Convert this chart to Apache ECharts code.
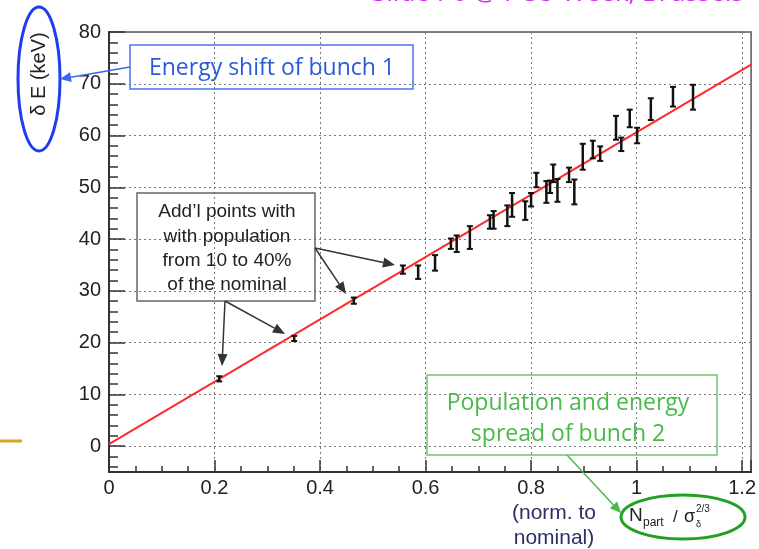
<!DOCTYPE html>
<html>
<head>
<meta charset="utf-8">
<script src="https://cdn.jsdelivr.net/npm/echarts@6/dist/echarts.min.js"></script>
<style>
html,body{margin:0;padding:0;background:#fff;}
#c{width:759px;height:549px;}
</style>
</head>
<body>
<div id="c"></div>
<script>
// ---- data ----
var xVals = [0.209, 0.351, 0.464, 0.557, 0.586, 0.618, 0.648, 0.659, 0.684, 0.722, 0.729,
             0.755, 0.764, 0.789, 0.800, 0.810, 0.829, 0.836, 0.842, 0.850, 0.872,
             0.882, 0.898, 0.917, 0.931, 0.961, 0.971, 0.987, 1.001, 1.027, 1.069, 1.107];
var yVals = [13.0, 20.8, 28.1, 34.1, 33.6, 35.4, 39.1, 39.1, 40.3, 43.3, 43.7,
             44.5, 46.6, 45.5, 47.6, 51.4, 49.1, 50.1, 52.7, 49.4, 52.4,
             49.1, 55.9, 57.3, 56.5, 61.5, 58.3, 63.3, 60.0, 65.1, 67.5, 67.4];
var yErr  = [0.5, 0.5, 0.6, 0.8, 1.3, 1.5, 1.0, 1.6, 2.2, 1.3, 1.7,
             2.0, 2.3, 1.8, 1.3, 1.4, 2.1, 1.2, 1.7, 2.2, 1.4,
             2.4, 2.5, 1.7, 1.4, 2.3, 1.3, 1.7, 1.5, 2.1, 1.9, 2.4];
var fitX = [0, 1.217];
var fitY = [0.4, 73.7];
var xTickStep = 0.2;
var yTickStep = 10;

var errData = xVals.map(function (x, i) { return [x, yVals[i], yErr[i]]; });
var fitData = fitX.map(function (x, i) { return [x, fitY[i]]; });

function arrow(x1, y1, x2, y2, color, w, hl, hw) {
  var dx = x2 - x1, dy = y2 - y1, L = Math.sqrt(dx * dx + dy * dy);
  var ux = dx / L, uy = dy / L, px = -uy, py = ux;
  var bx = x2 - ux * hl, by = y2 - uy * hl;
  return [
    { type: 'line', z: 100, shape: { x1: x1, y1: y1, x2: bx, y2: by }, style: { stroke: color, lineWidth: w } },
    { type: 'polygon', z: 100, shape: { points: [[x2, y2], [bx + px * hw, by + py * hw], [bx - px * hw, by - py * hw]] }, style: { fill: color } }
  ];
}

var graphics = [
  // slide header (cut off at top)
  { type: 'text', x: 372, y: 7, z: 100, style: { text: 'Slide P6 @ PCU Week, Brussels', font: '26px "Open Sans"', fill: '#d22cf0', textVerticalAlign: 'bottom' } },
  // gold decoration
  { type: 'line', z: 100, shape: { x1: 0, y1: 441, x2: 22, y2: 441 }, style: { stroke: '#d9a521', lineWidth: 3 } },
  // y axis title + ellipse
  { type: 'text', x: 39, y: 74, rotation: Math.PI / 2, z: 100, style: { text: 'δ E (keV)', font: '20px "Liberation Sans"', fill: '#222', textAlign: 'center', textVerticalAlign: 'middle' } },
  { type: 'ellipse', z: 100, shape: { cx: 39, cy: 79, rx: 21, ry: 72 }, style: { stroke: '#1f3df0', lineWidth: 3, fill: null } },
  // blue box
  { type: 'rect', z: 100, shape: { x: 130, y: 45, width: 283, height: 44 }, style: { stroke: '#4a74f0', lineWidth: 1.5, fill: null } },
  { type: 'text', x: 272, y: 68, z: 100, style: { text: 'Energy shift of bunch 1', font: '23px "Open Sans"', fill: '#2a5bd7', textAlign: 'center', textVerticalAlign: 'middle' } },
  // black box
  { type: 'rect', z: 100, shape: { x: 137, y: 193, width: 178, height: 108 }, style: { stroke: '#666', lineWidth: 1.5, fill: null } },
  { type: 'text', x: 227, y: 212, z: 100, style: { text: 'Add’l points with', font: '19px "Liberation Sans"', fill: '#222', textAlign: 'center', textVerticalAlign: 'middle' } },
  { type: 'text', x: 227, y: 237, z: 100, style: { text: 'with population', font: '19px "Liberation Sans"', fill: '#222', textAlign: 'center', textVerticalAlign: 'middle' } },
  { type: 'text', x: 227, y: 261, z: 100, style: { text: 'from 10 to 40%', font: '19px "Liberation Sans"', fill: '#222', textAlign: 'center', textVerticalAlign: 'middle' } },
  { type: 'text', x: 227, y: 285, z: 100, style: { text: 'of the nominal', font: '19px "Liberation Sans"', fill: '#222', textAlign: 'center', textVerticalAlign: 'middle' } },
  // green box
  { type: 'rect', z: 100, shape: { x: 427, y: 375, width: 290, height: 80 }, style: { stroke: '#6cc46c', lineWidth: 1.5, fill: null } },
  { type: 'text', x: 568, y: 403, z: 100, style: { text: 'Population and energy', font: '23px "Open Sans"', fill: '#4ab94a', textAlign: 'center', textVerticalAlign: 'middle' } },
  { type: 'text', x: 568, y: 434, z: 100, style: { text: 'spread of bunch 2', font: '23px "Open Sans"', fill: '#4ab94a', textAlign: 'center', textVerticalAlign: 'middle' } },
  // green ellipse + x title
  { type: 'ellipse', z: 100, shape: { cx: 683, cy: 517, rx: 62, ry: 22 }, style: { stroke: '#22a022', lineWidth: 3, fill: null } },
  { type: 'text', x: 629, y: 516, z: 100, style: { text: 'N', font: '19px "Liberation Sans"', fill: '#222', textVerticalAlign: 'middle' } },
  { type: 'text', x: 643, y: 523, z: 100, style: { text: 'part', font: '12px "Liberation Sans"', fill: '#222', textVerticalAlign: 'middle' } },
  { type: 'text', x: 673, y: 517, z: 100, style: { text: '/', font: '17px "Liberation Sans"', fill: '#222', textVerticalAlign: 'middle' } },
  { type: 'text', x: 684, y: 517, z: 100, style: { text: 'σ', font: '18px "Liberation Sans"', fill: '#222', textVerticalAlign: 'middle' } },
  { type: 'text', x: 696, y: 525, z: 100, style: { text: 'δ', font: '9px "Liberation Sans"', fill: '#222', textVerticalAlign: 'middle' } },
  { type: 'text', x: 696, y: 509, z: 100, style: { text: '2/3', font: '10px "Liberation Sans"', fill: '#222', textVerticalAlign: 'middle' } },
  { type: 'text', x: 554, y: 513, z: 100, style: { text: '(norm. to', font: '21px "Liberation Sans"', fill: '#2b2f66', textAlign: 'center', textVerticalAlign: 'middle' } },
  { type: 'text', x: 554, y: 538, z: 100, style: { text: 'nominal)', font: '21px "Liberation Sans"', fill: '#2b2f66', textAlign: 'center', textVerticalAlign: 'middle' } }
];
graphics = graphics
  .concat(arrow(130, 67, 60, 79, '#3a66f0', 1.5, 11, 5))
  .concat(arrow(315, 248, 395, 265, '#333', 1.5, 12, 5))
  .concat(arrow(315, 248, 346, 294, '#333', 1.5, 12, 5))
  .concat(arrow(225, 301, 222, 366, '#333', 1.5, 12, 5))
  .concat(arrow(225, 301, 285, 334, '#333', 1.5, 12, 5))
  .concat(arrow(567, 455, 621, 513, '#4ab94a', 1.5, 11, 5));

function fmtX(v) {
  var k = v / xTickStep;
  if (Math.abs(k - Math.round(k)) > 1e-6) return '';
  return String(Math.round(k * xTickStep * 10) / 10);
}
function fmtY(v) {
  if (v % yTickStep !== 0) return '';
  return String(v);
}

var chart = echarts.init(document.getElementById('c'), null, { renderer: 'canvas' });
chart.setOption({
  animation: false,
  backgroundColor: '#fff',
  grid: { left: 109, top: 32, right: 5, bottom: 77, show: true, borderColor: '#555', borderWidth: 1.5, backgroundColor: 'transparent' },
  xAxis: {
    type: 'value', min: 0, max: 1.217, interval: xTickStep,
    axisLine: { show: true, onZero: false, lineStyle: { color: '#333', width: 2 } },
    axisTick: { show: true, inside: true, length: 12, lineStyle: { color: '#333', width: 1.5 } },
    minorTick: { show: true, splitNumber: 4, length: 6, lineStyle: { color: '#333', width: 1.5 } },
    splitLine: { show: true, lineStyle: { color: '#777', width: 1, type: [2, 3] } },
    axisLabel: { formatter: fmtX, margin: 6, color: '#222', fontSize: 20, fontFamily: 'Liberation Sans' }
  },
  yAxis: {
    type: 'value', min: -5, max: 80, minInterval: yTickStep, maxInterval: yTickStep,
    axisLine: { show: true, onZero: false, lineStyle: { color: '#333', width: 2 } },
    axisTick: { show: true, inside: true, length: 16, lineStyle: { color: '#333', width: 1.5 } },
    minorTick: { show: true, splitNumber: 5, length: 9, lineStyle: { color: '#333', width: 1.5 } },
    splitLine: { show: true, lineStyle: { color: '#777', width: 1, type: [2, 3] } },
    axisLabel: { formatter: fmtY, margin: 8, color: '#222', fontSize: 20, fontFamily: 'Liberation Sans' }
  },
  series: [
    {
      type: 'line', data: fitData, showSymbol: false, symbol: 'none', clip: true,
      lineStyle: { color: '#ff2a2a', width: 2 }, z: 3
    },
    {
      type: 'custom', z: 4, clip: true,
      data: errData,
      encode: { x: 0, y: 1 },
      renderItem: function (params, api) {
        var x = api.value(0), y = api.value(1), e = api.value(2);
        var lo = api.coord([x, y - e]), hi = api.coord([x, y + e]);
        var cw = 3;
        return {
          type: 'group',
          children: [
            { type: 'line', shape: { x1: lo[0], y1: lo[1], x2: hi[0], y2: hi[1] }, style: { stroke: '#111', lineWidth: 2.5 } },
            { type: 'line', shape: { x1: lo[0] - cw, y1: lo[1], x2: lo[0] + cw, y2: lo[1] }, style: { stroke: '#111', lineWidth: 2 } },
            { type: 'line', shape: { x1: hi[0] - cw, y1: hi[1], x2: hi[0] + cw, y2: hi[1] }, style: { stroke: '#111', lineWidth: 2 } }
          ]
        };
      }
    }
  ],
  graphic: graphics
});
</script>
</body>
</html>
